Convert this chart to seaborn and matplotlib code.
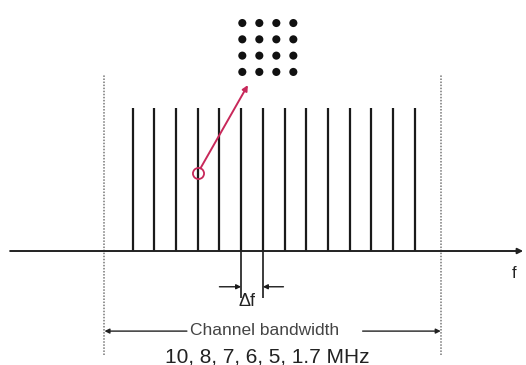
import numpy as np
import pandas as pd
import seaborn as sns
from matplotlib import pyplot as plt

# OFDM subcarriers (index, relative amplitude)
subcarriers = np.arange(14)
amplitudes = np.ones(14)

# 16-QAM constellation levels
qam_levels = [-3, -1, 1, 3]

# channel edges / labels (in subcarrier units)
channel_edges = [-1.3, 14.2]
delta_pair = [5, 6]
bw_label = 'Channel bandwidth'
bw_values = '10, 8, 7, 6, 5, 1.7 MHz'

sns.set_style("white")
plt.rcParams['font.family'] = ['Liberation Sans', 'DejaVu Sans']

fig = plt.figure(figsize=(5.26, 3.65), dpi=100)
ax = fig.add_axes([0, 0, 1, 1])
ax.set_xlim(-6.115, 18.13)
ax.set_ylim(-0.797, 1.755)
ax.axis('off')

# frequency axis
ax.annotate('', xy=(18.0, 0), xytext=(-5.65, 0),
            arrowprops=dict(arrowstyle='-|>', color='#222222', lw=1.4,
                            mutation_scale=8, shrinkA=0, shrinkB=0))
ax.text(17.6, -0.155, 'f', fontsize=12, ha='center', va='center', color='#222222')

# subcarriers
ax.vlines(subcarriers, 0, amplitudes, color='#1a1a1a', lw=1.6)

# channel edges (dotted)
ax.vlines(channel_edges, -0.73, 1.23, color='#777777', lw=1.1, linestyles=(0, (1, 1)))

# delta f
ax.vlines(delta_pair, -0.33, 0, color='#1a1a1a', lw=1.2)
ax.annotate('', xy=(delta_pair[0], -0.25), xytext=(delta_pair[0] - 1.0, -0.25),
            arrowprops=dict(arrowstyle='-|>', color='#1a1a1a', lw=1.0,
                            mutation_scale=7, shrinkA=0, shrinkB=0))
ax.annotate('', xy=(delta_pair[1], -0.25), xytext=(delta_pair[1] + 0.95, -0.25),
            arrowprops=dict(arrowstyle='-|>', color='#1a1a1a', lw=1.0,
                            mutation_scale=7, shrinkA=0, shrinkB=0))
ax.text(5.27, -0.35, 'Δf', fontsize=13, ha='center', va='center', color='#222222')

# channel bandwidth
ax.annotate('', xy=(channel_edges[0], -0.56), xytext=(2.5, -0.56),
            arrowprops=dict(arrowstyle='-|>', color='#222222', lw=1.0,
                            mutation_scale=7, shrinkA=0, shrinkB=0))
ax.annotate('', xy=(channel_edges[1], -0.56), xytext=(10.6, -0.56),
            arrowprops=dict(arrowstyle='-|>', color='#222222', lw=1.0,
                            mutation_scale=7, shrinkA=0, shrinkB=0))
ax.text(6.1, -0.555, bw_label, fontsize=12.5, ha='center', va='center', color='#444444')
ax.text(6.2, -0.74, bw_values, fontsize=15, ha='center', va='center', color='#222222')

# constellation
qi, qq = np.meshgrid(qam_levels, qam_levels)
const = pd.DataFrame({'I': 6.23 + qi.ravel() * 0.392, 'Q': 1.423 + qq.ravel() * 0.057})
sns.scatterplot(data=const, x='I', y='Q', ax=ax, s=34, color='#111111',
                edgecolor='none', legend=False)

# pointer from a subcarrier to the constellation
ax.annotate('', xy=(5.31, 1.16), xytext=(3, 0.545),
            arrowprops=dict(arrowstyle='-|>', color='#c8285a', lw=1.4,
                            mutation_scale=8, shrinkA=4, shrinkB=0))
ax.plot([3], [0.545], marker='o', ms=8, mfc='none', mec='#c8285a', mew=1.3)

fig.savefig('out.png', dpi=100)
